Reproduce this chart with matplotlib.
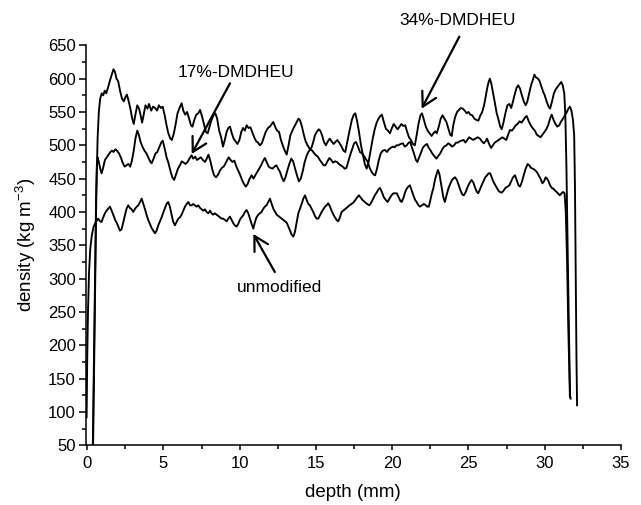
import matplotlib
matplotlib.use('Agg')
import matplotlib.pyplot as plt
from matplotlib.ticker import MultipleLocator

# depth (mm) / density (kg m-3)
depth_34 = [0.38, 0.50, 0.60, 0.68, 0.76, 0.85, 0.95, 1.05, 1.15, 1.25, 1.38, 1.50, 1.62, 1.72, 1.82, 1.92,
            2.03, 2.15, 2.28, 2.40, 2.50, 2.60, 2.70, 2.82, 2.95, 3.05, 3.15, 3.28, 3.40, 3.50, 3.60, 3.72,
            3.82, 3.95, 4.05, 4.20, 4.32, 4.45, 4.58, 4.70, 4.82, 4.95, 5.08, 5.20, 5.32, 5.45, 5.55, 5.68,
            5.80, 5.92, 6.05, 6.19, 6.30, 6.42, 6.55, 6.68, 6.80, 6.90, 7.02, 7.15, 7.28, 7.40, 7.52, 7.65,
            7.78, 7.90, 8.02, 8.15, 8.28, 8.40, 8.52, 8.65, 8.78, 8.90, 9.02, 9.14, 9.25, 9.36, 9.48, 9.60,
            9.72, 9.85, 9.98, 10.10, 10.22, 10.34, 10.45, 10.58, 10.70, 10.82, 10.95, 11.08, 11.20, 11.32,
            11.45, 11.58, 11.70, 11.85, 11.98, 12.10, 12.20, 12.32, 12.45, 12.58, 12.70, 12.82, 12.95, 13.08,
            13.20, 13.32, 13.45, 13.58, 13.72, 13.85, 13.95, 14.08, 14.20, 14.32, 14.45, 14.58, 14.70, 14.82,
            14.93, 15.05, 15.18, 15.28, 15.40, 15.52, 15.65, 15.78, 15.90, 16.02, 16.15, 16.28, 16.40, 16.55,
            16.68, 16.80, 16.92, 17.05, 17.20, 17.35, 17.48, 17.58, 17.70, 17.82, 17.95, 18.08, 18.20, 18.32,
            18.45, 18.58, 18.72, 18.85, 18.98, 19.10, 19.22, 19.32, 19.45, 19.58, 19.72, 19.85, 19.98, 20.10,
            20.22, 20.35, 20.48, 20.60, 20.72, 20.85, 20.98, 21.10, 21.22, 21.35, 21.48, 21.60, 21.72, 21.85,
            21.95, 22.08, 22.20, 22.32, 22.45, 22.58, 22.70, 22.82, 22.92, 23.05, 23.18, 23.30, 23.42, 23.55,
            23.68, 23.80, 23.90, 24.00, 24.12, 24.25, 24.38, 24.50, 24.62, 24.75, 24.88, 25.00, 25.12, 25.25,
            25.38, 25.52, 25.65, 25.78, 25.90, 26.02, 26.12, 26.22, 26.32, 26.40, 26.50, 26.60, 26.72, 26.85,
            26.95, 27.08, 27.18, 27.30, 27.42, 27.55, 27.68, 27.80, 27.92, 28.05, 28.15, 28.26, 28.38, 28.50,
            28.62, 28.75, 28.85, 28.98, 29.10, 29.22, 29.32, 29.42, 29.55, 29.65, 29.78, 29.90, 30.00, 30.12,
            30.25, 30.35, 30.48, 30.60, 30.72, 30.85, 30.98, 31.08, 31.18, 31.28, 31.35, 31.42, 31.50, 31.58,
            31.66, 31.70]
dens_34 = [40, 250, 430, 510, 550, 570, 578, 575, 582, 578, 588, 598, 607, 614, 610, 600,
           596, 582, 570, 566, 572, 576, 568, 556, 540, 532, 545, 560, 555, 545, 534, 548,
           560, 555, 562, 552, 558, 556, 552, 560, 556, 558, 545, 530, 518, 510, 508, 518,
           532, 548, 556, 563, 552, 546, 550, 540, 530, 528, 538, 546, 548, 553, 544, 532,
           520, 518, 528, 538, 545, 548, 540, 522, 512, 498, 508, 520, 526, 528, 518, 510,
           506, 502, 508, 520, 526, 522, 530, 526, 527, 520, 512, 506, 504, 500,
           503, 512, 520, 526, 528, 532, 535, 528, 522, 520, 508, 500, 492, 486,
           500, 515, 522, 528, 534, 540, 538, 528, 516, 506, 500, 495, 496, 505,
           515, 520, 524, 522, 515, 505, 500, 506, 510, 506, 502, 505, 508, 503,
           498, 492, 490, 505, 522, 538, 546, 548, 536, 520, 500, 485, 472, 465,
           475, 492, 510, 524, 534, 540, 544, 546, 535, 525, 522, 518, 526, 532,
           528, 524, 528, 532, 529, 530, 520, 512, 508, 502, 500, 515, 532, 545,
           548, 538, 528, 522, 518, 514, 518, 521, 518, 528, 540, 545, 540, 535,
           525, 516, 514, 530, 542, 550, 553, 556, 555, 552, 548, 550, 546, 545,
           540, 538, 537, 545, 550, 560, 572, 585, 595, 600, 592, 580, 565, 548,
           540, 528, 524, 535, 548, 560, 562, 556, 566, 578, 586, 590, 585, 575,
           566, 560, 565, 578, 590, 598, 606, 602, 600, 597, 588, 580, 575, 566,
           558, 555, 566, 578, 584, 588, 592, 595, 590, 578, 545, 470, 350, 230,
           125, 120]

depth_17 = [0.36, 0.48, 0.58, 0.63, 0.68, 0.76, 0.85, 0.94, 1.04, 1.16, 1.28, 1.40, 1.52, 1.62, 1.72, 1.85,
            1.95, 2.08, 2.20, 2.32, 2.45, 2.58, 2.70, 2.82, 2.92, 3.05, 3.16, 3.28, 3.38, 3.50, 3.62, 3.75,
            3.88, 4.00, 4.12, 4.22, 4.35, 4.48, 4.60, 4.72, 4.85, 4.95, 5.08, 5.20, 5.32, 5.45, 5.58, 5.70,
            5.82, 5.95, 6.08, 6.20, 6.32, 6.45, 6.58, 6.70, 6.84, 6.95, 7.08, 7.20, 7.32, 7.45, 7.58, 7.72,
            7.84, 7.95, 8.08, 8.20, 8.32, 8.45, 8.58, 8.70, 8.82, 8.95, 9.05, 9.18, 9.28, 9.40, 9.52, 9.65,
            9.78, 9.90, 10.02, 10.15, 10.28, 10.40, 10.52, 10.65, 10.78, 10.90, 11.02, 11.15, 11.28, 11.40,
            11.52, 11.65, 11.78, 11.90, 12.02, 12.15, 12.28, 12.40, 12.52, 12.64, 12.76, 12.88, 13.00, 13.12,
            13.25, 13.38, 13.50, 13.62, 13.75, 13.88, 14.00, 14.12, 14.25, 14.38, 14.50, 14.62, 14.75, 14.88,
            15.00, 15.12, 15.25, 15.38, 15.50, 15.62, 15.75, 15.88, 16.00, 16.12, 16.25, 16.38, 16.50, 16.62,
            16.75, 16.88, 17.00, 17.12, 17.25, 17.38, 17.50, 17.62, 17.75, 17.88, 18.00, 18.12, 18.25, 18.40,
            18.52, 18.65, 18.78, 18.88, 19.00, 19.12, 19.25, 19.38, 19.52, 19.65, 19.78, 19.90, 20.02, 20.15,
            20.28, 20.40, 20.55, 20.70, 20.82, 20.95, 21.08, 21.18, 21.30, 21.42, 21.55, 21.65, 21.78, 21.90,
            22.02, 22.15, 22.28, 22.40, 22.52, 22.62, 22.75, 22.90, 23.02, 23.15, 23.28, 23.40, 23.55, 23.68,
            23.80, 23.92, 24.05, 24.18, 24.30, 24.42, 24.55, 24.68, 24.80, 24.92, 25.05, 25.18, 25.30, 25.45,
            25.60, 25.75, 25.88, 26.00, 26.12, 26.22, 26.35, 26.48, 26.60, 26.72, 26.85, 26.98, 27.10, 27.22,
            27.35, 27.48, 27.60, 27.72, 27.85, 27.98, 28.10, 28.22, 28.35, 28.48, 28.60, 28.72, 28.82, 28.95,
            29.08, 29.20, 29.35, 29.48, 29.60, 29.72, 29.85, 29.98, 30.10, 30.22, 30.35, 30.45, 30.58, 30.70,
            30.82, 30.95, 31.08, 31.20, 31.32, 31.45, 31.55, 31.65, 31.75, 31.85, 31.93, 31.98, 32.03, 32.08,
            32.12]
dens_17 = [40, 250, 420, 470, 482, 475, 465, 458, 466, 478, 482, 486, 490, 492, 490, 494,
           492, 488, 482, 474, 468, 470, 472, 468, 476, 492, 510, 522, 516, 505, 498, 492,
           488, 482, 476, 473, 480, 488, 490, 497, 504, 507, 495, 482, 474, 462, 452, 448,
           456, 465, 470, 476, 474, 472, 475, 480, 485, 480, 483, 478, 480, 482, 478, 475,
           480, 486, 476, 464, 455, 452, 456, 462, 466, 468, 472, 478, 482, 478, 475, 477,
           468, 462, 456, 448, 442, 438, 442, 450, 455, 450, 455, 460, 465, 470,
           476, 481, 474, 468, 466, 465, 468, 470, 465, 460, 452, 446, 452, 462,
           472, 480, 476, 466, 455, 446, 450, 460, 474, 484, 490, 494, 492, 488,
           485, 483, 478, 474, 470, 470, 476, 481, 478, 474, 476, 475, 472, 470,
           468, 465, 466, 476, 486, 495, 503, 505, 498, 490, 488, 485, 480, 475,
           466, 460, 456, 455, 465, 478, 488, 492, 493, 490, 494, 496, 498, 497,
           500, 500, 502, 503, 498, 500, 504, 505, 496, 488, 478, 475, 483, 490,
           497, 500, 502, 496, 492, 488, 484, 480, 484, 488, 494, 498, 500, 503,
           501, 498, 500, 504, 504, 506, 507, 508, 504, 508, 512, 510, 508, 510,
           512, 510, 506, 503, 506, 510, 502, 496, 500, 504, 506, 508, 510, 512,
           510, 508, 516, 523, 522, 526, 530, 532, 536, 534, 538, 542, 544, 536,
           530, 526, 522, 516, 514, 512, 516, 520, 524, 530, 540, 546, 538, 532,
           528, 530, 536, 540, 545, 550, 555, 558, 552, 538, 515, 440, 300, 180,
           110]

depth_unmod = [-0.04, 0.00, 0.05, 0.12, 0.20, 0.30, 0.42, 0.52, 0.60, 0.72, 0.84, 0.94, 1.05, 1.16, 1.27, 1.38,
               1.49, 1.60, 1.72, 1.83, 1.93, 2.04, 2.14, 2.25, 2.36, 2.47, 2.58, 2.69, 2.80, 2.91, 3.02, 3.14,
               3.25, 3.35, 3.46, 3.57, 3.68, 3.79, 3.90, 4.00, 4.11, 4.22, 4.33, 4.44, 4.55, 4.66, 4.77, 4.88,
               5.00, 5.10, 5.20, 5.31, 5.42, 5.53, 5.64, 5.75, 5.86, 5.97, 6.08, 6.19, 6.30, 6.41, 6.52, 6.63,
               6.74, 6.85, 6.95, 7.06, 7.17, 7.28, 7.40, 7.50, 7.61, 7.72, 7.83, 7.94, 8.05, 8.15, 8.26, 8.37,
               8.48, 8.59, 8.70, 8.81, 8.92, 9.03, 9.14, 9.25, 9.36, 9.47, 9.58, 9.68, 9.79, 9.90, 10.00, 10.12,
               10.23, 10.34, 10.45, 10.56, 10.67, 10.78, 10.89, 11.00, 11.10, 11.22, 11.32, 11.43, 11.55, 11.65,
               11.76, 11.87, 11.98, 12.10, 12.20, 12.32, 12.42, 12.53, 12.64, 12.75, 12.86, 12.97, 13.08, 13.19,
               13.30, 13.40, 13.51, 13.62, 13.73, 13.84, 13.95, 14.06, 14.17, 14.28, 14.39, 14.50, 14.60, 14.71,
               14.82, 14.93, 15.04, 15.15, 15.26, 15.37, 15.48, 15.59, 15.70, 15.80, 15.92, 16.02, 16.14, 16.24,
               16.35, 16.46, 16.57, 16.68, 16.79, 16.90, 17.00, 17.10, 17.20, 17.32, 17.45, 17.58, 17.70, 17.82,
               17.92, 18.05, 18.20, 18.35, 18.50, 18.62, 18.75, 18.86, 19.00, 19.10, 19.20, 19.32, 19.45, 19.58,
               19.70, 19.82, 19.95, 20.08, 20.20, 20.30, 20.42, 20.55, 20.62, 20.75, 20.85, 20.95, 21.05, 21.16,
               21.28, 21.40, 21.50, 21.60, 21.72, 21.82, 21.95, 22.08, 22.20, 22.30, 22.40, 22.50, 22.60, 22.70,
               22.80, 22.92, 23.00, 23.10, 23.22, 23.35, 23.45, 23.56, 23.68, 23.80, 23.92, 24.00, 24.12, 24.24,
               24.36, 24.48, 24.60, 24.70, 24.82, 24.95, 25.08, 25.20, 25.32, 25.44, 25.55, 25.64, 25.75, 25.86,
               25.98, 26.10, 26.22, 26.32, 26.42, 26.52, 26.64, 26.76, 26.86, 26.96, 27.06, 27.18, 27.30, 27.42,
               27.55, 27.68, 27.80, 27.92, 28.05, 28.16, 28.28, 28.38, 28.50, 28.62, 28.75, 28.88, 28.98, 29.10,
               29.22, 29.35, 29.48, 29.60, 29.72, 29.85, 29.95, 30.06, 30.15, 30.25, 30.35, 30.46, 30.56, 30.68,
               30.78, 30.90, 30.99, 31.10, 31.20, 31.30, 31.38, 31.46, 31.55, 31.65]
dens_unmod = [92, 180, 250, 310, 345, 365, 378, 383, 386, 390, 386, 385, 392, 398, 402, 405,
              408, 402, 395, 388, 384, 378, 372, 374, 384, 395, 405, 410, 406, 404, 400, 405,
              408, 410, 415, 420, 412, 404, 395, 388, 382, 376, 372, 368, 372, 380, 386, 392,
              400, 406, 412, 415, 408, 396, 385, 380, 385, 390, 392, 396, 402, 408, 412, 415,
              410, 410, 412, 410, 408, 410, 406, 404, 402, 404, 400, 398, 402, 398, 396, 398,
              396, 394, 392, 390, 390, 388, 386, 390, 393, 388, 383, 380, 378, 382, 388, 392,
              395, 400, 403, 398, 390, 382, 375, 385, 392, 396, 398, 400, 405, 408,
              410, 415, 420, 412, 405, 400, 396, 394, 392, 390, 388, 386, 384, 378,
              372, 366, 363, 370, 384, 398, 405, 412, 420, 425, 418, 412, 410, 405,
              400, 394, 390, 390, 395, 400, 404, 408, 410, 413, 408, 402, 396, 392,
              388, 386, 392, 400, 402, 404, 406, 408, 410, 412, 414, 418, 422, 425,
              422, 418, 415, 412, 410, 414, 420, 425, 430, 434, 436, 430, 422, 418,
              415, 420, 425, 428, 428, 428, 422, 416, 415, 422, 430, 435, 438, 440,
              432, 424, 418, 415, 410, 408, 410, 412, 410, 408, 408, 418, 428, 436,
              448, 458, 463, 456, 440, 422, 415, 425, 435, 442, 448, 450, 452, 448,
              440, 432, 426, 425, 430, 438, 444, 448, 444, 436, 430, 428, 434, 440,
              446, 452, 455, 458, 458, 452, 445, 440, 436, 432, 430, 429, 432, 436,
              438, 440, 446, 452, 455, 448, 440, 438, 445, 455, 465, 472, 470, 466,
              465, 463, 460, 455, 450, 443, 446, 452, 450, 446, 440, 436, 435, 432,
              430, 427, 425, 428, 430, 428, 400, 330, 220, 122]

x_ticks = [0, 5, 10, 15, 20, 25, 30, 35]
y_ticks = [50, 100, 150, 200, 250, 300, 350, 400, 450, 500, 550, 600, 650]

plt.rcParams['font.family'] = ['Liberation Sans', 'DejaVu Sans']
plt.rcParams['mathtext.fontset'] = 'custom'
plt.rcParams['mathtext.rm'] = 'Liberation Sans'

fig = plt.figure(figsize=(6.41, 5.05), dpi=100)
ax = fig.add_axes([0.1337, 0.1182, 0.8351, 0.7921])

for d, r in [(depth_34, dens_34), (depth_17, dens_17), (depth_unmod, dens_unmod)]:
    ax.plot(d, r, color='black', lw=1.35)

ax.set_xlim(-0.1, 35)
ax.set_ylim(50, 650)
ax.set_xticks(x_ticks)
ax.set_yticks(y_ticks)
ax.xaxis.set_minor_locator(MultipleLocator(2.5))
ax.yaxis.set_minor_locator(MultipleLocator(25))

for s in ['top', 'right']:
    ax.spines[s].set_visible(False)
for s in ['left', 'bottom']:
    ax.spines[s].set_linewidth(1.1)

ax.tick_params(axis='both', which='both', direction='out', width=1.1, labelsize=12)
ax.tick_params(axis='y', which='major', length=5, pad=2)
ax.tick_params(axis='y', which='minor', length=3)
ax.tick_params(axis='x', which='major', length=3.8, pad=4)
ax.tick_params(axis='x', which='minor', length=3)

ax.set_xlabel('depth (mm)', fontsize=13.5)
ax.set_ylabel(r'density (kg m$^{\mathregular{-3}}$)', fontsize=13.5)
ax.xaxis.set_label_coords(0.5, -0.097)
ax.yaxis.set_label_coords(-0.089, 0.5)

arrow = dict(arrowstyle='->,head_length=0.5,head_width=0.28', color='black', lw=1.6,
             mutation_scale=20, shrinkA=0, shrinkB=0)

ax.text(9.74, 609, '17%-DMDHEU', fontsize=12.5, ha='center', va='center')
ax.annotate('', xy=(6.85, 487), xytext=(9.36, 593), arrowprops=arrow)

ax.text(24.31, 687, '34%-DMDHEU', fontsize=12.5, ha='center', va='center', clip_on=False)
ax.annotate('', xy=(21.93, 555), xytext=(24.4, 663), arrowprops=arrow, annotation_clip=False)

ax.text(12.6, 287, 'unmodified', fontsize=12.5, ha='center', va='center')
ax.annotate('', xy=(10.89, 367), xytext=(12.3, 310), arrowprops=arrow)

plt.savefig('out.png', dpi=100)
plt.close()
